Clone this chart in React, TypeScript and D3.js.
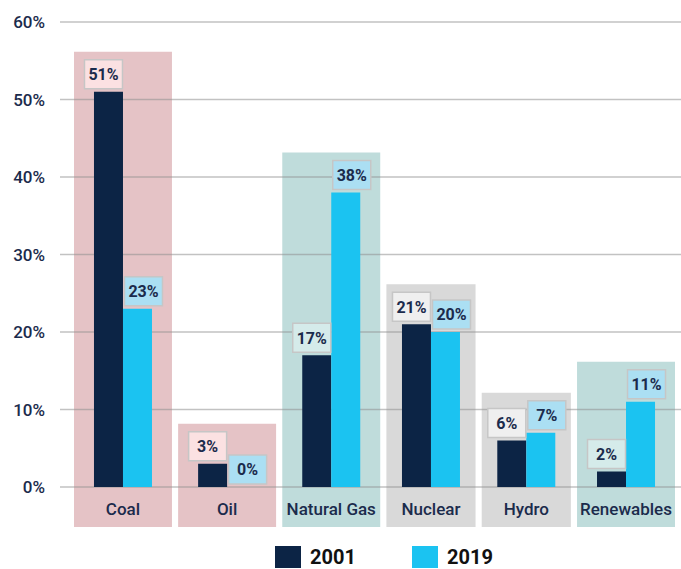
import React, { useEffect, useRef } from 'react';
import * as d3 from 'd3';

const categories = ['Coal', 'Oil', 'Natural Gas', 'Nuclear', 'Hydro', 'Renewables'];
const series = ['2001', '2019'];
const values2001 = [51, 3, 17, 21, 6, 2];
const values2019 = [23, 0, 38, 20, 7, 11];
const yTicks = [0, 10, 20, 30, 40, 50, 60];
// panel group per category: fossil / gas+renewables / other
const panelGroup = ['fossil', 'fossil', 'gas', 'other', 'other', 'gas'];

const App: React.FC = () => {
  const svgRef = useRef<SVGSVGElement>(null);

  useEffect(() => {
    if (!svgRef.current) return;
    const width = 681;
    const height = 569;
    const svg = d3.select(svgRef.current);
    svg.selectAll('*').remove();
    svg.attr('width', width).attr('height', height);

    const navy = '#0c2445';
    const cyan = '#1bc3f1';
    const font = 'Roboto, "DejaVu Sans", sans-serif';

    const panelFill: Record<string, string> = { fossil: '#e5c3c6', gas: '#bfdcdb', other: '#d9d9d9' };
    const labelFill: Record<string, string> = { fossil: '#fbe1e2', gas: '#d5ebea', other: '#efefef' };
    // the "other" panels are drawn a bit narrower
    const panelWeight: Record<string, number> = { fossil: 1, gas: 1, other: 0.91 };

    // cumulative layout of panels along x
    const gapUnits = 0.063;
    const starts: number[] = [];
    let acc = 0;
    panelGroup.forEach((g, i) => {
      starts.push(acc);
      acc += panelWeight[g] + (i < panelGroup.length - 1 ? gapUnits : 0);
    });
    const u = d3.scaleLinear().domain([0, acc]).range([74, 675]);
    const px = (i: number) => u(starts[i]);
    const pw = (i: number) => u(starts[i] + panelWeight[panelGroup[i]]) - u(starts[i]);

    const y = d3.scaleLinear().domain([0, 60]).range([487, 22]);

    const barW = 29;
    const rows = categories.map((c, i) => ({
      cat: c,
      i,
      group: panelGroup[i],
      v: [values2001[i], values2019[i]],
    }));

    // background panels
    svg.append('g').selectAll('rect')
      .data(rows)
      .enter().append('rect')
      .attr('x', d => px(d.i))
      .attr('width', d => pw(d.i))
      .attr('y', d => y(Math.max(d.v[0], d.v[1])) - 40)
      .attr('height', d => 527 - (y(Math.max(d.v[0], d.v[1])) - 40))
      .attr('fill', d => panelFill[d.group]);

    // gridlines, semi-transparent so they darken over the panels
    svg.append('g').selectAll('line')
      .data(yTicks)
      .enter().append('line')
      .attr('x1', 60).attr('x2', 681)
      .attr('y1', d => y(d)).attr('y2', d => y(d))
      .attr('stroke', '#8f8f8f')
      .attr('stroke-opacity', 0.55)
      .attr('stroke-width', 1.3);

    // y tick labels
    svg.append('g').selectAll('text')
      .data(yTicks)
      .enter().append('text')
      .attr('x', 45)
      .attr('y', d => y(d))
      .attr('dy', '0.36em')
      .attr('text-anchor', 'end')
      .style('font-family', font)
      .style('font-size', '17px')
      .style('font-weight', 500)
      .style('fill', '#1b2b4c')
      .text(d => `${d}%`);

    // bars
    const bars = svg.append('g');
    rows.forEach(r => {
      const cx = px(r.i) + pw(r.i) / 2;
      r.v.forEach((v, k) => {
        const bx = k === 0 ? cx - barW : cx;
        bars.append('rect')
          .attr('x', bx)
          .attr('width', barW)
          .attr('y', y(v))
          .attr('height', Math.max(0, y(0) - y(v)))
          .attr('fill', k === 0 ? navy : cyan);
      });
    });

    // value labels
    const labels = svg.append('g');
    rows.forEach(r => {
      const cx = px(r.i) + pw(r.i) / 2;
      r.v.forEach((v, k) => {
        const bcx = k === 0 ? cx - barW / 2 - 5 : cx + barW / 2 + 6;
        const bw = 38;
        const bh = 29;
        const top = y(v) - 3 - bh;
        labels.append('rect')
          .attr('x', bcx - bw / 2)
          .attr('y', top)
          .attr('width', bw)
          .attr('height', bh)
          .attr('fill', k === 0 ? labelFill[r.group] : '#abdff3')
          .attr('stroke', '#c6c6c6')
          .attr('stroke-width', 1.5);
        labels.append('text')
          .attr('x', bcx)
          .attr('y', top + bh / 2)
          .attr('dy', '0.36em')
          .attr('text-anchor', 'middle')
          .style('font-family', font)
          .style('font-size', '16px')
          .style('font-weight', 700)
          .style('fill', '#1b2b4c')
          .text(`${v}%`);
      });
    });

    // category labels
    svg.append('g').selectAll('text')
      .data(rows)
      .enter().append('text')
      .attr('x', d => px(d.i) + pw(d.i) / 2)
      .attr('y', 509)
      .attr('dy', '0.36em')
      .attr('text-anchor', 'middle')
      .style('font-family', font)
      .style('font-size', '17px')
      .style('font-weight', 500)
      .style('fill', '#1b2b4c')
      .text(d => d.cat);

    // legend
    const legend = svg.append('g');
    const legendX = [275, 412];
    series.forEach((s, i) => {
      legend.append('rect')
        .attr('x', legendX[i]).attr('y', 546)
        .attr('width', 26).attr('height', 22)
        .attr('fill', i === 0 ? navy : cyan);
      legend.append('text')
        .attr('x', legendX[i] + 35)
        .attr('y', 557)
        .attr('dy', '0.36em')
        .style('font-family', font)
        .style('font-size', '20px')
        .style('font-weight', 700)
        .style('fill', '#111')
        .text(s);
    });
  }, []);

  return (
    <div style={{ position: 'absolute', left: 0, top: 0 }}>
      <svg ref={svgRef} style={{ display: 'block' }}></svg>
    </div>
  );
};

export default App;
